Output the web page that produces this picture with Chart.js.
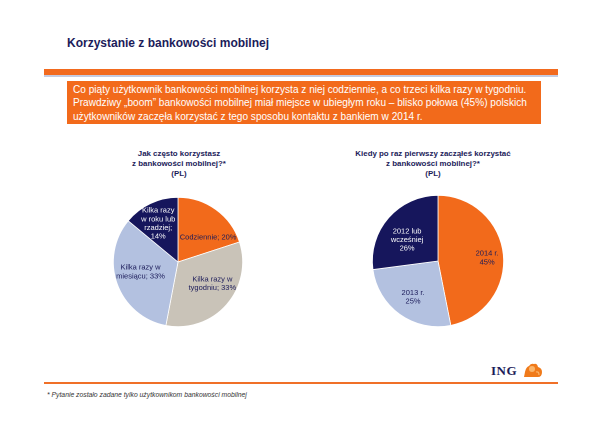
<!DOCTYPE html>
<html><head><meta charset="utf-8">
<script src="https://cdn.jsdelivr.net/npm/chart.js@4"></script>
<style>
html,body{margin:0;padding:0;background:#fff;width:600px;height:424px;overflow:hidden;font-family:"Liberation Sans",Arial,sans-serif;}
.abs{position:absolute;}
#title{left:67px;top:36px;font-size:12px;font-weight:bold;color:#1c1c5a;}
#bar{left:44px;top:69px;width:514px;height:6px;background:#f26a1e;}
#bar2{left:44px;top:75px;width:514px;height:2px;background:#c5cbe0;}
#box{left:67px;top:81px;width:474px;height:43px;background:#f26a1b;color:#fff;font-size:10.1px;line-height:13.4px;padding:2px 0 0 6px;box-sizing:border-box;white-space:nowrap;}
.ptitle{width:200px;text-align:center;font-size:7.9px;font-weight:bold;color:#1c1c5a;line-height:10px;}
#t1{left:79px;top:149px;}
#t2{left:333px;top:149px;}
#bline{left:44px;top:382px;width:514px;height:2px;background:#f07028;}
#foot{left:47px;top:391px;font-size:6.8px;font-style:italic;color:#333;}
#ing{left:491px;top:363px;font-family:"Liberation Serif",serif;font-weight:bold;font-size:13px;color:#1c1c5a;letter-spacing:0.5px;}
#lion{left:523px;top:363px;width:20px;height:15px;}
</style></head><body>
<div id="title" class="abs">Korzystanie z bankowości mobilnej</div>
<div id="bar" class="abs"></div><div id="bar2" class="abs"></div>
<div id="box" class="abs">Co piąty użytkownik bankowości mobilnej korzysta z niej codziennie, a co trzeci kilka razy w tygodniu.<br>Prawdziwy „boom” bankowości mobilnej miał miejsce w ubiegłym roku – blisko połowa (45%) polskich<br>użytkowników zaczęła korzystać z tego sposobu kontaktu z bankiem w 2014 r.</div>
<div id="t1" class="abs ptitle">Jak często korzystasz<br>z bankowości mobilnej?*<br>(PL)</div>
<div id="t2" class="abs ptitle">Kiedy po raz pierwszy zacząłeś korzystać<br>z bankowości mobilnej?*<br>(PL)</div>
<canvas id="c1" class="abs" width="140" height="140" style="left:108px;top:192px;"></canvas>
<canvas id="c2" class="abs" width="140" height="140" style="left:368px;top:191px;"></canvas>
<div id="ing" class="abs">ING</div>
<svg id="lion" class="abs" viewBox="0 0 20 15"><path d="M1 14 L2 9 Q3 4 6 3 Q8 0 11 1 Q14 0 15 4 Q19 5 19 9 Q19 14 15 14 Z" fill="#f07a1a"/><circle cx="9" cy="6" r="3" fill="#fbb56a"/><path d="M13 9 Q16 8 16 12" stroke="#fbb56a" stroke-width="1.2" fill="none"/></svg>
<div id="bline" class="abs"></div>
<div id="foot" class="abs">* Pytanie zostało zadane tylko użytkownikom bankowości mobilnej</div>
<script>
// Chart 1: usage frequency
const freqCategories = ['Codziennie', 'Kilka razy w tygodniu', 'Kilka razy w miesiącu', 'Kilka razy w roku lub rzadziej'];
const freqValues = [20, 33, 33, 14];
const freqLabelLines = [['Codziennie; 20%'], ['Kilka razy w', 'tygodniu; 33%'], ['Kilka razy w', 'miesiącu; 33%'], ['Kilka razy', 'w roku lub', 'rzadziej;', '14%']];
// Chart 2: first use
const startCategories = ['2014 r.', '2013 r.', '2012 lub wcześniej'];
const startValues = [45, 25, 26];
const startLabelLines = [['2014 r.', '45%'], ['2013 r.', '25%'], ['2012 lub', 'wcześniej', '26%']];

const ORANGE = '#f26a1b', GREY = '#c9c3b8', LBLUE = '#b3c1e0', NAVY = '#16165c';

const sliceLabels = {
  id: 'sliceLabels',
  afterDatasetsDraw(chart, args, opts) {
    const ctx = chart.ctx;
    const meta = chart.getDatasetMeta(0);
    ctx.save();
    ctx.font = '7.5px "Liberation Sans", Arial, sans-serif';
    ctx.textAlign = 'center';
    ctx.textBaseline = 'middle';
    meta.data.forEach((el, i) => {
      const p = el.getProps(['x', 'y', 'startAngle', 'endAngle', 'outerRadius'], true);
      const mid = (p.startAngle + p.endAngle) / 2 + opts.shift[i] * Math.PI / 180;
      const r = p.outerRadius * opts.frac[i];
      const x = p.x + Math.cos(mid) * r;
      const y = p.y + Math.sin(mid) * r;
      const lines = opts.lines[i];
      const lh = 8.6;
      ctx.fillStyle = opts.colors[i];
      lines.forEach((t, k) => ctx.fillText(t, x, y + (k - (lines.length - 1) / 2) * lh));
    });
    ctx.restore();
  }
};

function makePie(id, cats, vals, colors, lines, textColors, frac, shift, pad) {
  new Chart(document.getElementById(id), {
    type: 'pie',
    data: { labels: cats, datasets: [{ data: vals, backgroundColor: colors, borderColor: '#ffffff', borderWidth: 0.8 }] },
    options: {
      responsive: false, animation: false, devicePixelRatio: 2,
      layout: { padding: pad },
      plugins: { legend: { display: false }, tooltip: { enabled: false }, title: { display: false },
        sliceLabels: { lines: lines, colors: textColors, frac: frac, shift: shift } }
    },
    plugins: [sliceLabels]
  });
}

makePie('c1', freqCategories, freqValues, [ORANGE, GREY, LBLUE, NAVY], freqLabelLines,
  ['#1c1c5a', '#1c1c5a', '#1c1c5a', '#ffffff'], [0.6, 0.63, 0.6, 0.67], [15, -9, 5, -2], 5);
makePie('c2', startCategories, startValues, [ORANGE, LBLUE, NAVY], startLabelLines,
  ['#1c1c5a', '#1c1c5a', '#ffffff'], [0.75, 0.67, 0.57], [2, -1, -7], 4);
</script>
</body></html>
